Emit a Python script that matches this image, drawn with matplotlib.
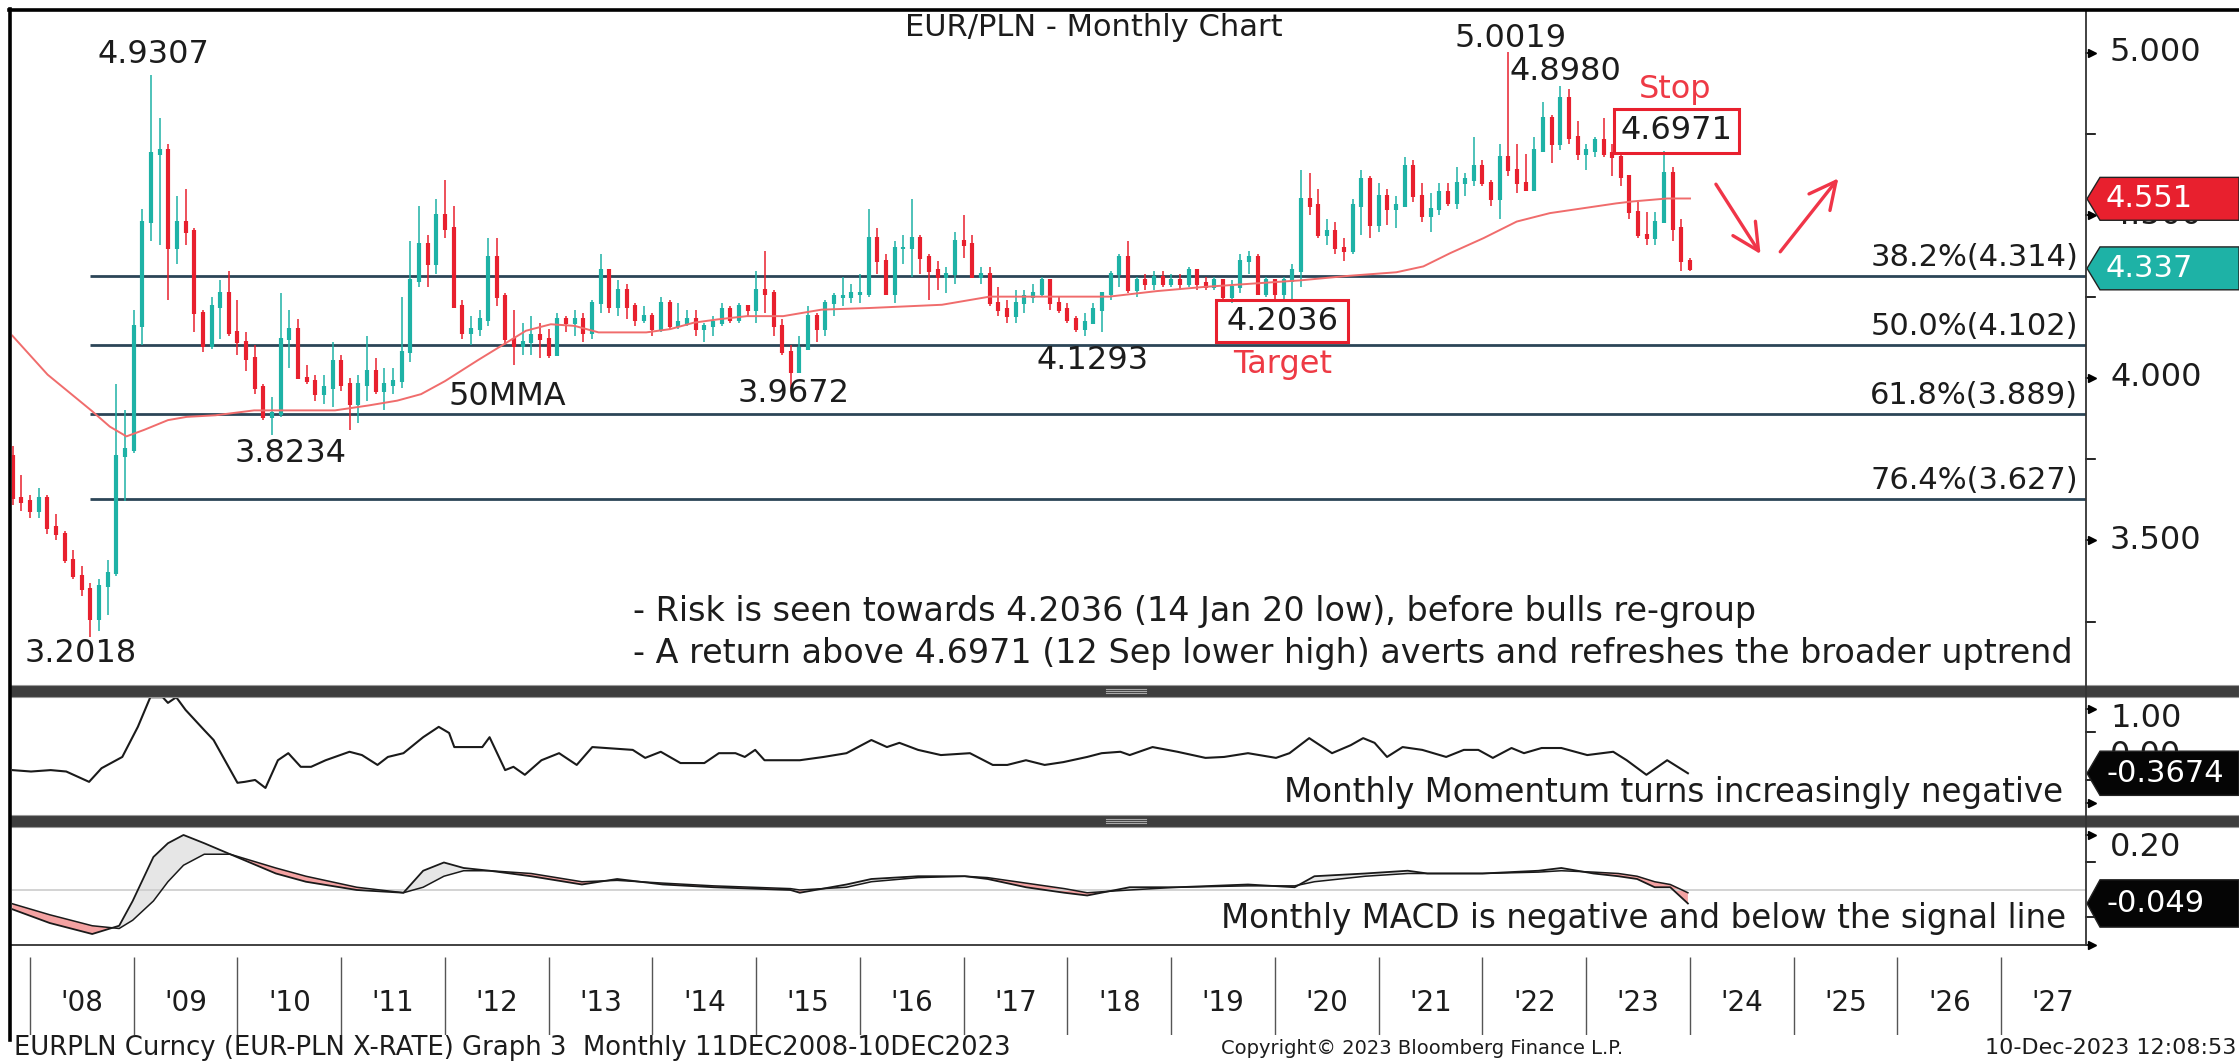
import matplotlib
matplotlib.use("Agg")
import matplotlib.pyplot as plt
from matplotlib.patches import Polygon, Rectangle
from matplotlib.lines import Line2D
import numpy as np

plt.rcParams['font.family'] = ['DejaVu Sans']

W, H = 2239, 1064
X0, X1 = 12, 2086          # plot area, pixels
XMIN, XMAX = 2007.827, 2027.817

# ---------------- data ----------------
# monthly bars from Oct 2007 to Dec 2023, open = previous close
start_year, start_month = 2007, 10
first_open = 3.76
highs = [3.79, 3.70, 3.64,
         3.66, 3.64, 3.58, 3.53, 3.47, 3.42, 3.37, 3.38, 3.44, 3.98, 3.90, 4.21,
         4.52, 4.9307, 4.80, 4.72, 4.56, 4.58, 4.46, 4.21, 4.25, 4.30, 4.33, 4.24,
         4.14, 4.10, 3.98, 3.94, 4.26, 4.21, 4.18, 4.04, 4.01, 4.01, 4.11, 4.07,
         4.00, 4.01, 4.13, 4.06, 4.03, 4.03, 4.25, 4.42, 4.53, 4.44, 4.55, 4.61,
         4.53, 4.24, 4.19, 4.21, 4.43, 4.43, 4.26, 4.21, 4.17, 4.19, 4.17, 4.15,
         4.20, 4.19, 4.21, 4.20, 4.24, 4.38, 4.33, 4.30, 4.29, 4.23, 4.22, 4.20,
         4.25, 4.24, 4.23, 4.21, 4.21, 4.17, 4.19, 4.23, 4.22, 4.23, 4.22, 4.33,
         4.39, 4.27, 4.18, 4.10, 4.13, 4.22, 4.20, 4.24, 4.26, 4.31, 4.29, 4.32,
         4.52, 4.46, 4.38, 4.42, 4.44, 4.55, 4.44, 4.38, 4.36, 4.34, 4.45, 4.50,
         4.44, 4.34, 4.34, 4.28, 4.24, 4.27, 4.27, 4.29, 4.31, 4.30, 4.25, 4.23,
         4.19, 4.20, 4.23, 4.26, 4.33, 4.38, 4.42, 4.31, 4.32, 4.33, 4.33, 4.32,
         4.32, 4.34, 4.33, 4.31, 4.31, 4.30, 4.30, 4.38, 4.39, 4.38, 4.31, 4.30,
         4.31, 4.35, 4.64, 4.63, 4.58, 4.49, 4.48, 4.43, 4.55, 4.64, 4.62, 4.60,
         4.58, 4.56, 4.68, 4.67, 4.60, 4.57, 4.60, 4.60, 4.65, 4.63, 4.74, 4.67,
         4.61, 4.72, 5.0019, 4.72, 4.69, 4.74, 4.85, 4.81, 4.898, 4.89, 4.79, 4.72,
         4.74, 4.80, 4.72, 4.69, 4.62, 4.54, 4.51, 4.51, 4.6971, 4.65, 4.49, 4.37]
lows = [3.61, 3.59, 3.57,
        3.57, 3.52, 3.50, 3.43, 3.38, 3.33, 3.2018, 3.22, 3.27, 3.39, 3.62, 3.77,
        4.10, 4.42, 4.41, 4.24, 4.35, 4.41, 4.14, 4.08, 4.09, 4.12, 4.13, 4.07,
        4.02, 3.95, 3.87, 3.8234, 3.88, 4.03, 4.00, 3.98, 3.93, 3.92, 3.91, 3.96,
        3.84, 3.86, 3.93, 3.95, 3.90, 3.95, 3.97, 4.05, 4.28, 4.28, 4.32, 4.43,
        4.22, 4.12, 4.10, 4.13, 4.16, 4.22, 4.10, 4.04, 4.07, 4.07, 4.06, 4.06,
        4.07, 4.14, 4.13, 4.11, 4.12, 4.20, 4.20, 4.19, 4.18, 4.16, 4.17, 4.13,
        4.14, 4.15, 4.15, 4.16, 4.13, 4.11, 4.13, 4.16, 4.17, 4.17, 4.19, 4.17,
        4.20, 4.13, 4.07, 3.9672, 4.02, 4.10, 4.11, 4.13, 4.19, 4.22, 4.23, 4.23,
        4.25, 4.32, 4.26, 4.23, 4.35, 4.31, 4.32, 4.24, 4.27, 4.26, 4.29, 4.37,
        4.31, 4.29, 4.22, 4.19, 4.17, 4.17, 4.20, 4.23, 4.25, 4.21, 4.20, 4.17,
        4.14, 4.1293, 4.17, 4.14, 4.24, 4.28, 4.26, 4.25, 4.27, 4.27, 4.28, 4.28,
        4.27, 4.28, 4.27, 4.27, 4.27, 4.24, 4.23, 4.26, 4.32, 4.26, 4.25, 4.24,
        4.24, 4.24, 4.28, 4.50, 4.43, 4.41, 4.38, 4.36, 4.38, 4.44, 4.43, 4.45,
        4.47, 4.46, 4.53, 4.54, 4.48, 4.45, 4.50, 4.53, 4.52, 4.56, 4.59, 4.59,
        4.53, 4.49, 4.62, 4.57, 4.58, 4.58, 4.70, 4.66, 4.70, 4.72, 4.67, 4.64,
        4.68, 4.68, 4.62, 4.59, 4.49, 4.43, 4.41, 4.41, 4.48, 4.42, 4.33, 4.33]
closes = [3.63, 3.62, 3.59,
          3.63, 3.54, 3.52, 3.44, 3.39, 3.35, 3.26, 3.36, 3.40, 3.76, 3.78, 4.16,
          4.48, 4.69, 4.70, 4.40, 4.48, 4.45, 4.20, 4.10, 4.22, 4.26, 4.14, 4.11,
          4.06, 3.97, 3.88, 3.89, 4.12, 4.15, 4.00, 3.99, 3.95, 3.97, 4.05, 3.98,
          3.92, 3.98, 4.02, 3.96, 3.98, 3.99, 4.08, 4.30, 4.41, 4.35, 4.50, 4.46,
          4.22, 4.14, 4.15, 4.18, 4.37, 4.25, 4.12, 4.10, 4.11, 4.13, 4.12, 4.07,
          4.18, 4.17, 4.18, 4.14, 4.23, 4.33, 4.22, 4.27, 4.22, 4.18, 4.19, 4.15,
          4.23, 4.16, 4.17, 4.18, 4.15, 4.16, 4.17, 4.21, 4.18, 4.22, 4.21, 4.27,
          4.26, 4.16, 4.08, 4.02, 4.09, 4.19, 4.15, 4.23, 4.25, 4.25, 4.26, 4.26,
          4.43, 4.36, 4.26, 4.40, 4.40, 4.43, 4.37, 4.33, 4.31, 4.32, 4.42, 4.41,
          4.31, 4.32, 4.23, 4.21, 4.19, 4.23, 4.25, 4.26, 4.30, 4.23, 4.21, 4.18,
          4.15, 4.17, 4.21, 4.26, 4.32, 4.37, 4.27, 4.30, 4.29, 4.31, 4.29, 4.30,
          4.29, 4.33, 4.29, 4.28, 4.30, 4.25, 4.28, 4.36, 4.37, 4.26, 4.30, 4.26,
          4.30, 4.33, 4.55, 4.53, 4.44, 4.45, 4.40, 4.39, 4.53, 4.61, 4.47, 4.56,
          4.52, 4.53, 4.65, 4.56, 4.50, 4.52, 4.57, 4.54, 4.60, 4.61, 4.65, 4.60,
          4.55, 4.68, 4.64, 4.60, 4.58, 4.70, 4.80, 4.72, 4.86, 4.74, 4.69, 4.70,
          4.73, 4.69, 4.68, 4.62, 4.51, 4.44, 4.43, 4.48, 4.63, 4.46, 4.36, 4.337]

# 50 month moving average
ma_dates = [2007.83, 2008.17, 2008.59, 2008.77, 2008.93, 2009.10, 2009.33, 2009.51, 2009.79, 2010.16,
            2010.48, 2010.94, 2011.26, 2011.54, 2011.77, 2012.00, 2012.32, 2012.55, 2012.78, 2013.02,
            2013.25, 2013.48, 2013.71, 2013.94, 2014.17, 2014.40, 2014.63, 2014.91, 2015.26, 2015.63,
            2016.09, 2016.79, 2017.25, 2017.71, 2018.40, 2018.86, 2019.32, 2019.78, 2020.24, 2020.71,
            2021.17, 2021.43, 2021.69, 2022.01, 2022.33, 2022.65, 2022.97, 2023.29, 2023.45, 2023.78,
            2024.00]
ma_vals = [4.13, 4.01, 3.90, 3.85, 3.82, 3.84, 3.87, 3.88, 3.885, 3.90,
           3.90, 3.90, 3.915, 3.93, 3.95, 3.99, 4.055, 4.10, 4.145, 4.165,
           4.16, 4.14, 4.14, 4.14, 4.15, 4.17, 4.18, 4.19, 4.19, 4.21,
           4.215, 4.225, 4.25, 4.25, 4.25, 4.267, 4.28, 4.29, 4.30, 4.314,
           4.325, 4.343, 4.384, 4.43, 4.481, 4.507, 4.522, 4.537, 4.543, 4.552,
           4.552]

fib_levels = [4.314, 4.102, 3.889, 3.627]
fib_labels = ['38.2%(4.314)', '50.0%(4.102)', '61.8%(3.889)', '76.4%(3.627)']

# momentum
mom_dates = [2007.83, 2008.01, 2008.20, 2008.35, 2008.57, 2008.69, 2008.89, 2009.04, 2009.16, 2009.28,
             2009.33, 2009.41, 2009.50, 2009.68, 2009.77, 2010.00, 2010.07, 2010.17, 2010.27, 2010.39,
             2010.49, 2010.61, 2010.71, 2010.85, 2011.08, 2011.20, 2011.35, 2011.45, 2011.60, 2011.79,
             2011.94, 2012.04, 2012.09, 2012.36, 2012.43, 2012.58, 2012.66, 2012.77, 2012.93, 2013.10,
             2013.27, 2013.42, 2013.81, 2013.93, 2014.08, 2014.27, 2014.50, 2014.64, 2014.80, 2014.89,
             2014.99, 2015.08, 2015.33, 2015.42, 2015.65, 2015.87, 2016.11, 2016.26, 2016.38, 2016.56,
             2016.78, 2017.06, 2017.28, 2017.42, 2017.60, 2017.78, 2017.96, 2018.19, 2018.33, 2018.51,
             2018.60, 2018.82, 2019.06, 2019.33, 2019.51, 2019.74, 2020.01, 2020.14, 2020.33, 2020.55,
             2020.73, 2020.85, 2020.96, 2021.08, 2021.23, 2021.42, 2021.65, 2021.82, 2021.96, 2022.10,
             2022.28, 2022.40, 2022.57, 2022.76, 2023.01, 2023.26, 2023.39, 2023.58, 2023.78, 2023.98]
mom_vals = [-0.30, -0.33, -0.30, -0.33, -0.55, -0.26, -0.02, 0.62, 1.25, 1.25,
            1.13, 1.25, 0.98, 0.55, 0.34, -0.57, -0.55, -0.51, -0.68, -0.09,
            0.06, -0.23, -0.23, -0.09, 0.09, 0.02, -0.19, -0.02, 0.06, 0.40,
            0.62, 0.49, 0.19, 0.19, 0.40, -0.30, -0.23, -0.40, -0.09, 0.06,
            -0.19, 0.19, 0.13, -0.04, 0.09, -0.15, -0.15, 0.06, 0.06, -0.02,
            0.13, -0.09, -0.09, -0.09, -0.02, 0.06, 0.34, 0.19, 0.28, 0.13,
            0.02, 0.06, -0.19, -0.19, -0.09, -0.19, -0.13, -0.02, 0.06, 0.09,
            0.02, 0.19, 0.09, -0.04, -0.02, 0.06, -0.04, 0.06, 0.38, 0.06,
            0.23, 0.38, 0.28, -0.02, 0.19, 0.13, -0.02, 0.13, 0.13, -0.04,
            0.17, 0.06, 0.17, 0.17, 0.02, 0.09, -0.09, -0.40, -0.09, -0.3674]

# MACD and signal
macd_dates = [2007.83, 2008.19, 2008.60, 2008.86, 2008.99, 2009.19, 2009.33, 2009.48, 2009.68, 2009.93,
              2010.37, 2010.66, 2011.15, 2011.60, 2011.79, 2011.99, 2012.18, 2012.43, 2012.83, 2013.32,
              2013.66, 2014.10, 2014.59, 2015.33, 2015.42, 2015.87, 2016.11, 2016.56, 2017.01, 2017.23,
              2017.60, 2017.97, 2018.19, 2018.60, 2019.06, 2019.74, 2020.19, 2020.38, 2020.87, 2021.28,
              2021.47, 2022.00, 2022.54, 2022.76, 2023.07, 2023.31, 2023.49, 2023.66, 2023.81, 2023.98]
macd_vals = [-0.07, -0.12, -0.16, -0.13, -0.04, 0.12, 0.17, 0.20, 0.17, 0.13,
             0.06, 0.03, 0.00, -0.01, 0.07, 0.10, 0.08, 0.07, 0.05, 0.02,
             0.04, 0.02, 0.01, 0.00, -0.01, 0.02, 0.04, 0.05, 0.05, 0.04,
             0.01, -0.01, -0.02, 0.01, 0.01, 0.02, 0.01, 0.05, 0.06, 0.07,
             0.06, 0.06, 0.07, 0.08, 0.06, 0.05, 0.04, 0.01, 0.01, -0.049]
signal_vals = [-0.05, -0.09, -0.13, -0.14, -0.11, -0.04, 0.03, 0.09, 0.13, 0.13,
               0.08, 0.05, 0.01, -0.01, 0.01, 0.05, 0.07, 0.07, 0.06, 0.03,
               0.035, 0.025, 0.015, 0.005, 0.0, 0.01, 0.03, 0.045, 0.05, 0.045,
               0.025, 0.005, -0.01, 0.0, 0.01, 0.015, 0.015, 0.03, 0.05, 0.06,
               0.06, 0.06, 0.065, 0.07, 0.065, 0.06, 0.05, 0.03, 0.02, -0.01]

years = list(range(2008, 2028))
year_labels = ["'08", "'09", "'10", "'11", "'12", "'13", "'14", "'15", "'16", "'17",
               "'18", "'19", "'20", "'21", "'22", "'23", "'24", "'25", "'26", "'27"]

TEAL = '#1eb2a6'
RED = '#e8202e'
MA_RED = '#f06c6c'
FIB = '#2c4557'
TXT = '#1c1c1c'


def fx(px):
    return px / W


def fy(py):
    return 1 - py / H


def rx(px):
    return (px - X0) / (X1 - X0)


fig = plt.figure(figsize=(W / 100, H / 100), dpi=100)


def add_panel(top, bottom):
    a = fig.add_axes([fx(X0), fy(bottom), (X1 - X0) / W, (bottom - top) / H])
    a.set_xlim(XMIN, XMAX)
    for s in a.spines.values():
        s.set_visible(False)
    a.set_xticks([])
    a.set_yticks([])
    return a


ax = add_panel(10, 685)
axm = add_panel(697, 815)
axc = add_panel(827, 945)
axx = add_panel(945, 1035)

ax.set_ylim(3.055, 5.132)
axm.set_ylim(-1.255, 1.255)
axc.set_ylim(-0.20, 0.229)
axx.set_ylim(0, 1)

# ---------------- price panel ----------------
closes_a = np.array(closes)
opens_a = np.concatenate([[first_open], closes_a[:-1]])
dates = np.array([start_year + (start_month + i) / 12 for i in range(len(closes))])
cols = [TEAL if c >= o else RED for o, c in zip(opens_a, closes_a)]
ax.vlines(dates, lows, highs, colors=cols, lw=1.1, zorder=3)
ax.vlines(dates, np.minimum(opens_a, closes_a) - 0.004, np.maximum(opens_a, closes_a) + 0.004,
          colors=cols, lw=3.0, zorder=3)

ax.plot(ma_dates, ma_vals, color=MA_RED, lw=1.4, zorder=4)

ax.hlines(fib_levels, 2008.58, XMAX, color=FIB, lw=2.0, zorder=2)
for lev, lab in zip(fib_levels, fib_labels):
    ax.text(2027.74, lev + 0.012, lab, ha='right', va='bottom', fontsize=22, color=TXT)

lab_kw = dict(ha='center', va='center', fontsize=23, color=TXT)
ax.text(2009.19, 4.994, '4.9307', **lab_kw)
ax.text(2008.49, 3.151, '3.2018', **lab_kw)
ax.text(2010.51, 3.766, '3.8234', **lab_kw)
ax.text(2012.60, 3.942, '50MMA', **lab_kw)
ax.text(2015.36, 3.951, '3.9672', **lab_kw)
ax.text(2018.24, 4.055, '4.1293', **lab_kw)
ax.text(2022.27, 5.043, '5.0019', **lab_kw)
ax.text(2022.80, 4.942, '4.8980', **lab_kw)

# target box
ax.add_patch(Rectangle((2019.43, 4.111), 1.27, 0.129, fill=False, ec=RED, lw=2.2, zorder=5))
ax.text(2020.07, 4.175, '4.2036', **lab_kw)
ax.text(2020.07, 4.040, 'Target', ha='center', va='center', fontsize=23, color='#ee3a45')
# stop box
ax.add_patch(Rectangle((2023.27, 4.692), 1.20, 0.136, fill=False, ec=RED, lw=2.2, zorder=5))
ax.text(2023.87, 4.760, '4.6971', **lab_kw)
ax.text(2023.86, 4.888, 'Stop', ha='center', va='center', fontsize=23, color='#ee3a45')

# hand-drawn arrows
arr = dict(arrowstyle='->,head_length=0.8,head_width=0.4', color='#f03548', lw=2.4,
           mutation_scale=24, shrinkA=0, shrinkB=0)
ax.annotate('', xy=(2024.68, 4.381), xytext=(2024.25, 4.596), arrowprops=arr)
ax.annotate('', xy=(2025.43, 4.614), xytext=(2024.87, 4.388), arrowprops=arr)

fig.text(fx(633), fy(611), '- Risk is seen towards 4.2036 (14 Jan 20 low), before bulls re-group',
         ha='left', va='center', fontsize=24, color=TXT)
fig.text(fx(633), fy(654), '- A return above 4.6971 (12 Sep lower high) averts and refreshes the broader uptrend',
         ha='left', va='center', fontsize=24, color=TXT)
fig.text(fx(1094), fy(28), 'EUR/PLN - Monthly Chart', ha='center', va='center', fontsize=22, color=TXT)

# right axis for price panel
ytr = ax.get_yaxis_transform()


def arrow_tick(a, v):
    a.plot([rx(X1), rx(2093)], [v, v], color='k', lw=1.2, transform=a.get_yaxis_transform(), clip_on=False)
    a.plot([rx(2092)], [v], marker='>', ms=6, color='k', transform=a.get_yaxis_transform(), clip_on=False)


def minor_tick(a, v):
    a.plot([rx(X1), rx(2095)], [v, v], color='k', lw=1.2, transform=a.get_yaxis_transform(), clip_on=False)


def flag(a, v, half, text, color):
    t = a.get_yaxis_transform()
    pts = [(rx(2087), v), (rx(2100), v + half), (rx(W), v + half), (rx(W), v - half), (rx(2100), v - half)]
    a.add_patch(Polygon(pts, closed=True, transform=t, clip_on=False, fc=color, ec='#222222', lw=1.0, zorder=8))
    a.text(rx(2106), v, text, transform=t, clip_on=False, color='white', ha='left', va='center',
           fontsize=22, zorder=9)


for v, s in [(5.0, '5.000'), (4.5, '4.500'), (4.0, '4.000'), (3.5, '3.500')]:
    arrow_tick(ax, v)
    ax.text(rx(2110), v, s, transform=ytr, clip_on=False, ha='left', va='center', fontsize=23, color=TXT)
for v in [4.75, 4.25, 3.75, 3.25]:
    minor_tick(ax, v)
flag(ax, 4.551, 0.066, '4.551', RED)
flag(ax, 4.337, 0.066, '4.337', TEAL)

# ---------------- momentum panel ----------------
axm.plot(mom_dates, mom_vals, color='#1a1a1a', lw=1.5)
arrow_tick(axm, 1.0)
arrow_tick(axm, -1.0)
minor_tick(axm, 0.5)
minor_tick(axm, -0.5)
mtr = axm.get_yaxis_transform()
axm.text(rx(2110), 0.80, '1.00', transform=mtr, clip_on=False, ha='left', va='center', fontsize=23, color=TXT)
axm.text(rx(2110), 0.0, '0.00', transform=mtr, clip_on=False, ha='left', va='center', fontsize=23, color=TXT)
flag(axm, -0.3674, 0.47, '-0.3674', '#050505')
axm.text(rx(2063), -0.78, 'Monthly Momentum turns increasingly negative', transform=mtr,
         ha='right', va='center', fontsize=23.5, color=TXT)

# ---------------- MACD panel ----------------
md = np.array(macd_dates)
mv = np.array(macd_vals)
sv = np.array(signal_vals)
axc.axhline(0, color='#cccccc', lw=1.2)
axc.fill_between(md, mv, sv, where=mv >= sv, interpolate=True, color='#e6e6e6', lw=0)
axc.fill_between(md, mv, sv, where=mv < sv, interpolate=True, color='#f4a2a2', lw=0)
axc.plot(md, sv, color='#1a1a1a', lw=1.1)
axc.plot(md, mv, color='#1a1a1a', lw=1.3)
arrow_tick(axc, 0.2)
arrow_tick(axc, -0.2)
minor_tick(axc, 0.1)
minor_tick(axc, -0.1)
ctr = axc.get_yaxis_transform()
axc.text(rx(2110), 0.153, '0.20', transform=ctr, clip_on=False, ha='left', va='center', fontsize=23, color=TXT)
flag(axc, -0.049, 0.086, '-0.049', '#050505')
axc.text(rx(2066), -0.102, 'Monthly MACD is negative and below the signal line', transform=ctr,
         ha='right', va='center', fontsize=23.5, color=TXT)

# ---------------- year axis ----------------
axx.vlines(years, 0, 0.87, color='#555555', lw=1.0)
for y, lab in zip(years, year_labels):
    axx.text(y + 0.5, 0.36, lab, ha='center', va='center', fontsize=20, color=TXT)

# ---------------- frame, separators, footer ----------------
for top in (685, 815):
    fig.add_artist(Rectangle((fx(10), fy(top + 12)), 1 - fx(10), 12 / H, transform=fig.transFigure,
                             fc='#3e3e3e', ec='#9a9a9a', lw=0.8))
    for k in range(3):
        yy = top + 4 + 2 * k
        fig.add_artist(Line2D([fx(1106), fx(1146)], [fy(yy), fy(yy)], color='#a8a8a8', lw=0.8))
fig.add_artist(Line2D([fx(X1), fx(X1)], [fy(10), fy(945)], color='#333333', lw=1.3))
fig.add_artist(Line2D([fx(10), fx(X1)], [fy(945), fy(945)], color='#333333', lw=1.3))
fig.add_artist(Line2D([fx(10), fx(10)], [fy(9), fy(1040)], color='black', lw=2.6))
fig.add_artist(Line2D([fx(9), fx(W)], [fy(10), fy(10)], color='black', lw=2.6))

fig.text(fx(14), fy(1048), 'EURPLN Curncy (EUR-PLN X-RATE) Graph 3  Monthly 11DEC2008-10DEC2023',
         ha='left', va='center', fontsize=18.6, color=TXT)
fig.text(fx(1221), fy(1048), 'Copyright\u00a9 2023 Bloomberg Finance L.P.',
         ha='left', va='center', fontsize=14, color=TXT)
fig.text(fx(2236), fy(1048), '10-Dec-2023 12:08:53', ha='right', va='center', fontsize=16, color=TXT)

fig.savefig('out.png', dpi=100)
